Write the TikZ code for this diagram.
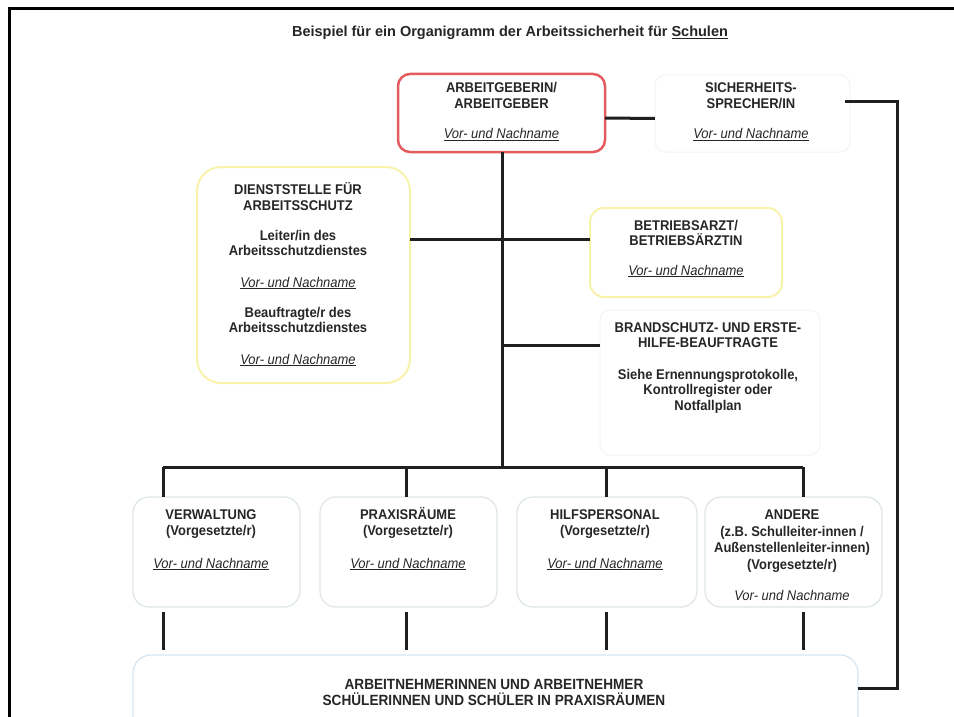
\documentclass[tikz,border=0pt]{standalone}
\usepackage{fontspec}
\setmainfont{Liberation Sans}[FakeStretch=0.92]
\newfontfamily\titlefont{Liberation Sans}
\newcommand{\vn}{\underline{\textit{\mdseries Vor- und Nachname}}}
\definecolor{agred}{RGB}{228,92,96}
\definecolor{dsyel}{RGB}{248,242,170}
\definecolor{faint}{RGB}{243,244,244}
\definecolor{subgray}{RGB}{222,230,230}
\definecolor{botblue}{RGB}{212,230,244}
\tikzset{
  box/.style={rounded corners=#1, minimum width=0, minimum height=0, inner sep=0},
  box/.default=12,
  conn/.style={line width=3pt, black!88},
  txt/.style={font=\fontsize{14.1}{15.5}\selectfont\bfseries, align=center, inner sep=0, anchor=base, text=black!85},
}
\begin{document}
\begin{tikzpicture}[x=1pt,y=-1pt]
\useasboundingbox (0,0) rectangle (954,717);
\fill[white] (0,0) rectangle (954,717);
% page frame
\draw[line width=3pt, black] (9,717) -- (9,9) -- (954,9);

% title
\node[txt, font=\titlefont\fontsize{14.5}{16}\selectfont\bfseries] (title) at (510,37)
  {Beispiel für ein Organigramm der Arbeitssicherheit für \underline{Schulen}};

% boxes
\draw[box=12, draw=agred, line width=2.5pt] (398,74) rectangle (605,152);
\node[inner sep=0, minimum width=207, minimum height=78] (ag) at (501.5,113) {};
\draw[box=10, draw=faint, line width=1pt] (655,75) rectangle (850,152);
\node[inner sep=0, minimum width=195, minimum height=77] (sp) at (752.5,113.5) {};
\draw[box=24, draw=dsyel, line width=2pt] (197,167) rectangle (410,383);
\node[inner sep=0, minimum width=213, minimum height=216] (ds) at (303.5,275) {};
\draw[box=14, draw=dsyel, line width=2pt] (590,208) rectangle (782,297);
\node[inner sep=0, minimum width=192, minimum height=89] (ba) at (686,252.5) {};
\draw[box=10, draw=faint, line width=1pt] (600,310) rectangle (820,455);
\node[inner sep=0, minimum width=220, minimum height=145] (bs) at (710,382.5) {};

\draw[box=16, draw=subgray, line width=1.2pt] (133,497) rectangle (300,607);
\node[inner sep=0, minimum width=167, minimum height=110] (vw) at (216.5,552) {};
\draw[box=16, draw=subgray, line width=1.2pt] (320,497) rectangle (497,607);
\node[inner sep=0, minimum width=177, minimum height=110] (pr) at (408.5,552) {};
\draw[box=16, draw=subgray, line width=1.2pt] (517,497) rectangle (697,607);
\node[inner sep=0, minimum width=180, minimum height=110] (hp) at (607,552) {};
\draw[box=16, draw=subgray, line width=1.2pt] (705,497) rectangle (882,607);
\node[inner sep=0, minimum width=177, minimum height=110] (an) at (793.5,552) {};

\draw[box=18, draw=botblue, line width=1.2pt] (133,655) rectangle (858,745);
\node[inner sep=0, minimum width=725, minimum height=90] (ar) at (495.5,700) {};

% texts (anchor base = baseline of the last line)
\node[txt] (t-ag) at (501.5,139) {ARBEITGEBERIN/\\ARBEITGEBER\\[15.5pt]\vn};
\node[txt] (t-sp) at (751,139) {SICHERHEITS-\\SPRECHER/IN\\[15.5pt]\vn};
\node[txt] (t-ds) at (298,364) {DIENSTSTELLE FÜR\\ARBEITSSCHUTZ\\[14.5pt]Leiter/in des\\Arbeitsschutzdienstes\\[16pt]\vn\\[14.5pt]Beauftragte/r des\\Arbeitsschutzdienstes\\[16pt]\vn};
\node[txt] (t-ba) at (686,275) {BETRIEBSARZT/\\BETRIEBSÄRZTIN\\[14pt]\vn};
\node[txt] (t-bs) at (708,410) {BRANDSCHUTZ- UND ERSTE-\\HILFE-BEAUFTRAGTE\\[16pt]Siehe Ernennungsprotokolle,\\Kontrollregister oder\\Notfallplan};
\node[txt] (t-vw) at (211,568) {VERWALTUNG\\(Vorgesetzte/r)\\[17.5pt]\vn};
\node[txt] (t-pr) at (408,568) {PRAXISRÄUME\\(Vorgesetzte/r)\\[17.5pt]\vn};
\node[txt] (t-hp) at (605,568) {HILFSPERSONAL\\(Vorgesetzte/r)\\[17.5pt]\vn};
\node[txt, font=\fontsize{14.1}{16.5}\selectfont\bfseries] (t-an) at (792,600) {ANDERE\\(z.B. Schulleiter-innen /\\Außenstellenleiter-innen)\\(Vorgesetzte/r)\\[14.5pt]\textit{\mdseries Vor- und Nachname}};
\node[txt, font=\fontsize{14.8}{16}\selectfont\bfseries] (t-ar) at (494,705) {ARBEITNEHMERINNEN UND ARBEITNEHMER\\SCHÜLERINNEN UND SCHÜLER IN PRAXISRÄUMEN};

% connectors
\coordinate (h1) at (502,239);
\coordinate (h2) at (502,345);
\coordinate (bus) at (502,467);
\coordinate (b1) at (163,467);
\coordinate (b2) at (406,467);
\coordinate (b3) at (606,467);
\coordinate (b4) at (803,467);
\coordinate (r1) at (897,102);
\coordinate (r2) at (897,688);

\draw[conn] ([yshift=-5pt]ag.east) -- ([yshift=-5pt]sp.west);
\draw[conn] (ag.south -| bus) -- (bus);
\draw[conn] (ds.east |- h1) -- (ba.west |- h1);
\draw[conn] (h2) -- (bs.west |- h2);
\draw[conn] (b1) -- (b4);
\foreach \b/\n in {b1/vw,b2/pr,b3/hp,b4/an}{
  \draw[conn] (\b) -- (\b |- \n.north);
}
\coordinate (l1t) at (163,612); \coordinate (l1b) at (163,650);
\coordinate (l2t) at (406,612); \coordinate (l2b) at (406,650);
\coordinate (l3t) at (606,612); \coordinate (l3b) at (606,650);
\coordinate (l4t) at (803,612); \coordinate (l4b) at (803,650);
\foreach \i in {1,2,3,4}{
  \draw[conn] (l\i t) -- (l\i b);
}
\draw[conn] ([xshift=-5pt,yshift=11.5pt]sp.east) -- (r1) -- (r2) -- (ar.east |- r2);
\end{tikzpicture}
\end{document}
